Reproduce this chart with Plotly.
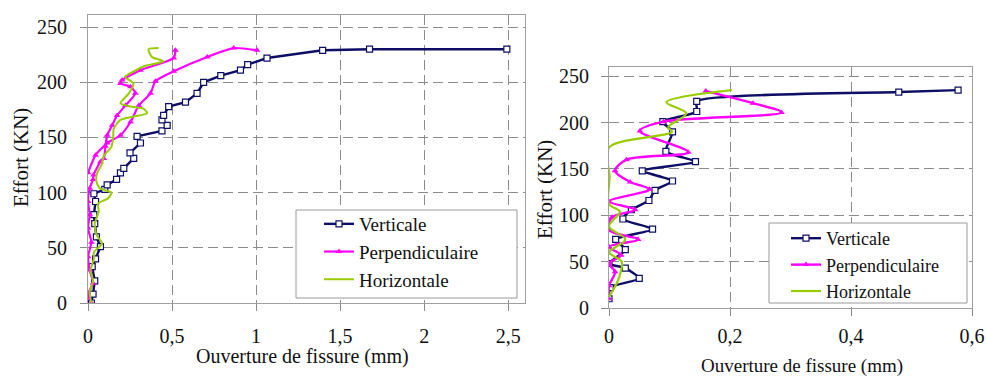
import plotly.graph_objects as go

# ---------------- data: left chart ----------------
left_vert_x = [0.02, 0.03, 0.04, 0.025, 0.045, 0.074, 0.05, 0.04, 0.035, 0.045, 0.035, 0.10, 0.114, 0.17,
               0.193, 0.213, 0.272, 0.25, 0.312, 0.292, 0.44, 0.471, 0.44, 0.45, 0.48, 0.58, 0.649, 0.688,
               0.79, 0.907, 0.95, 1.065, 1.396, 1.675, 2.492]
left_vert_y = [0, 8, 20, 33, 40, 51, 60, 72, 80, 92, 99, 103, 107, 112, 118, 122, 131, 136, 145, 151, 156,
               161, 166, 170, 178, 182, 190, 200, 206, 211, 216, 222, 229, 230, 230]

left_perp_x = [0.02, 0.0, 0.03, 0.01, 0.0, 0.02, 0.0, 0.01, 0.0, 0.01, 0.03, 0.033, 0.074, 0.094, 0.104,
               0.114, 0.144, 0.173, 0.223, 0.282, 0.253, 0.193, 0.203, 0.312, 0.51, 0.52, None,
               0.0, 0.045, 0.114, 0.193, 0.253, 0.302, 0.372, 0.401, 0.51, 0.709, 0.867, 1.006]
left_perp_y = [0, 8, 18, 30, 42, 55, 68, 80, 92, 104, 112, 116, 128, 131, 142, 152, 161, 170, 179, 190,
               196, 199, 202, 211, 222, 229, None,
               118, 134, 145, 152, 164, 179, 190, 201, 210, 223, 231, 229]

left_horiz_x = [0.02, 0.01, 0.03, 0.015, 0.035, 0.035, 0.084, 0.05, 0.04, 0.064, 0.06, 0.12, 0.14, 0.07,
                0.05, 0.055, 0.08, 0.094, 0.14, 0.15, 0.153, 0.193, 0.272, 0.352, 0.332, 0.253, 0.193,
                0.243, 0.27, 0.22, 0.272, 0.342, 0.45, 0.38, 0.36, 0.42]
left_horiz_y = [0, 10, 20, 30, 40, 46, 54, 62, 72, 83, 90, 95, 100, 104, 110, 118, 125, 133, 142, 150,
                158, 166, 169, 172, 176, 178, 181, 190, 199, 205, 210, 215, 219, 223, 230, 231]

left_xticks = [0, 0.5, 1, 1.5, 2, 2.5]
left_xticktext = ["0", "0,5", "1", "1,5", "2", "2,5"]
left_yticks = [0, 50, 100, 150, 200, 250]

# ---------------- data: right chart ----------------
right_vert_x = [0.0, 0.002, 0.05, 0.027, 0.0, 0.027, 0.011, 0.072, 0.023, 0.037, 0.066, 0.076, 0.105,
                0.055, 0.143, 0.094, 0.105, 0.089, 0.145, 0.145, 0.479, 0.577]
right_vert_y = [10, 22, 32, 43, 48, 63, 74, 85, 96, 106, 116, 127, 137, 148, 158, 169, 190, 201, 212,
                223, 233, 235]

right_perp_x = [0.0, 0.0, 0.01, 0.0, 0.02, 0.0, 0.048, 0.0, 0.005, 0.043, 0.0, 0.067, 0.035, 0.01, 0.029,
                0.131, 0.051, 0.09, 0.285, 0.238, 0.16]
right_perp_y = [10, 24, 39, 48, 57, 66, 74, 84, 98, 106, 115, 128, 136, 148, 160, 168, 191, 201, 211,
                221, 234]

right_horiz_x = [0.0, 0.015, 0.021, 0.0, 0.027, 0.0, 0.018, 0.0, 0.001, 0.0, 0.104, 0.098, 0.128,
                 0.095, 0.203]
right_horiz_y = [12, 30, 50, 60, 74, 88, 104, 112, 141, 173, 190, 195, 210, 222, 235]

right_xticks = [0, 0.2, 0.4, 0.6]
right_xticktext = ["0", "0,2", "0,4", "0,6"]
right_yticks = [0, 50, 100, 150, 200, 250]

series_names = ["Verticale", "Perpendiculaire", "Horizontale"]

# ---------------- styling ----------------
W, H = 986, 376
SERIF = "Liberation Serif"
NAVY = "#0e0e66"
MAGENTA = "#ff00ff"
GREEN = "#99cc00"
GRID = "#8c8c8c"
FRAME = "#a0a0a0"
TXT = "#111111"


def pxx(p):
    return p / W


def pxy(p):
    return 1 - p / H


fig = go.Figure()

# left traces
fig.add_trace(go.Scatter(x=left_vert_x, y=left_vert_y, name=series_names[0], mode="lines+markers",
                         line=dict(color=NAVY, width=2.4),
                         marker=dict(symbol="square", size=6, color="white", line=dict(color=NAVY, width=1.2)),
                         xaxis="x", yaxis="y", legend="legend"))
fig.add_trace(go.Scatter(x=left_perp_x, y=left_perp_y, name=series_names[1], mode="lines+markers",
                         line=dict(color=MAGENTA, width=2.2, shape="spline", smoothing=0.6),
                         marker=dict(symbol="triangle-up", size=6, color=MAGENTA),
                         xaxis="x", yaxis="y", legend="legend"))
fig.add_trace(go.Scatter(x=left_horiz_x, y=left_horiz_y, name=series_names[2], mode="lines",
                         line=dict(color=GREEN, width=2, shape="spline", smoothing=0.6),
                         xaxis="x", yaxis="y", legend="legend"))

# right traces
fig.add_trace(go.Scatter(x=right_vert_x, y=right_vert_y, name=series_names[0], mode="lines+markers",
                         line=dict(color=NAVY, width=2.4, shape="spline", smoothing=0.6),
                         marker=dict(symbol="square", size=6, color="white", line=dict(color=NAVY, width=1.2)),
                         xaxis="x2", yaxis="y2", legend="legend2"))
fig.add_trace(go.Scatter(x=right_perp_x, y=right_perp_y, name=series_names[1], mode="lines+markers",
                         line=dict(color=MAGENTA, width=2.4, shape="spline", smoothing=0.9),
                         marker=dict(symbol="triangle-up", size=6, color=MAGENTA),
                         xaxis="x2", yaxis="y2", legend="legend2"))
fig.add_trace(go.Scatter(x=right_horiz_x, y=right_horiz_y, name=series_names[2], mode="lines",
                         line=dict(color=GREEN, width=2.2, shape="spline", smoothing=0.9),
                         xaxis="x2", yaxis="y2", legend="legend2"))

axis_common = dict(showgrid=True, gridcolor=GRID, gridwidth=1, griddash="10px,5px",
                   showline=True, linecolor=FRAME, linewidth=1, mirror=True, zeroline=False,
                   ticks="outside", ticklen=7, tickcolor=GRID, automargin=False,
                   tickfont=dict(family=SERIF, size=20, color=TXT))

fig.update_layout(
    width=W, height=H, margin=dict(l=0, r=0, t=0, b=0, autoexpand=False),
    paper_bgcolor="white", plot_bgcolor="white",
    xaxis=dict(domain=[pxx(88), pxx(525)], range=[0, 2.6], tickvals=left_xticks,
               ticktext=left_xticktext, anchor="y", ticklabelstandoff=8, **axis_common),
    yaxis=dict(domain=[pxy(303), pxy(15)], range=[0, 261], tickvals=left_yticks,
               anchor="x", ticklabelstandoff=9, **axis_common),
    xaxis2=dict(domain=[pxx(609), pxx(972)], range=[0, 0.6], tickvals=right_xticks,
                ticktext=right_xticktext, anchor="y2", ticklabelstandoff=3, **axis_common),
    yaxis2=dict(domain=[pxy(308), pxy(67)], range=[0, 260], tickvals=right_yticks,
                anchor="x2", ticklabelstandoff=8, **axis_common),
    legend=dict(x=pxx(319), y=pxy(205), xanchor="left", yanchor="top", bgcolor="rgba(0,0,0,0)",
                borderwidth=0, font=dict(family=SERIF, size=19, color=TXT), tracegroupgap=0),
    legend2=dict(x=pxx(786), y=pxy(220), xanchor="left", yanchor="top", bgcolor="rgba(0,0,0,0)",
                 borderwidth=0, font=dict(family=SERIF, size=18, color=TXT), tracegroupgap=0),
    shapes=[
        dict(type="rect", xref="paper", yref="paper", x0=pxx(296), x1=pxx(517), y0=pxy(298), y1=pxy(210),
             line=dict(color="#9a9a9a", width=1), fillcolor="white", layer="above"),
        dict(type="rect", xref="paper", yref="paper", x0=pxx(769), x1=pxx(967), y0=pxy(303), y1=pxy(223),
             line=dict(color="#9a9a9a", width=1), fillcolor="white", layer="above"),
    ],
    annotations=[
        dict(text="Ouverture de fissure (mm)", xref="paper", yref="paper", x=pxx(302), y=pxy(356),
             xanchor="center", yanchor="middle", showarrow=False,
             font=dict(family=SERIF, size=20, color=TXT)),
        dict(text="Effort (KN)", xref="paper", yref="paper", x=pxx(21), y=pxy(158), textangle=-90,
             xanchor="center", yanchor="middle", showarrow=False,
             font=dict(family=SERIF, size=21, color=TXT)),
        dict(text="Ouverture de fissure (mm)", xref="paper", yref="paper", x=pxx(802), y=pxy(366),
             xanchor="center", yanchor="middle", showarrow=False,
             font=dict(family=SERIF, size=19, color=TXT)),
        dict(text="Effort (KN)", xref="paper", yref="paper", x=pxx(545), y=pxy(190), textangle=-90,
             xanchor="center", yanchor="middle", showarrow=False,
             font=dict(family=SERIF, size=21, color=TXT)),
    ],
)

fig.write_html("out.html", config={"displayModeBar": False},
               post_script="document.body.style.margin='0px';")
